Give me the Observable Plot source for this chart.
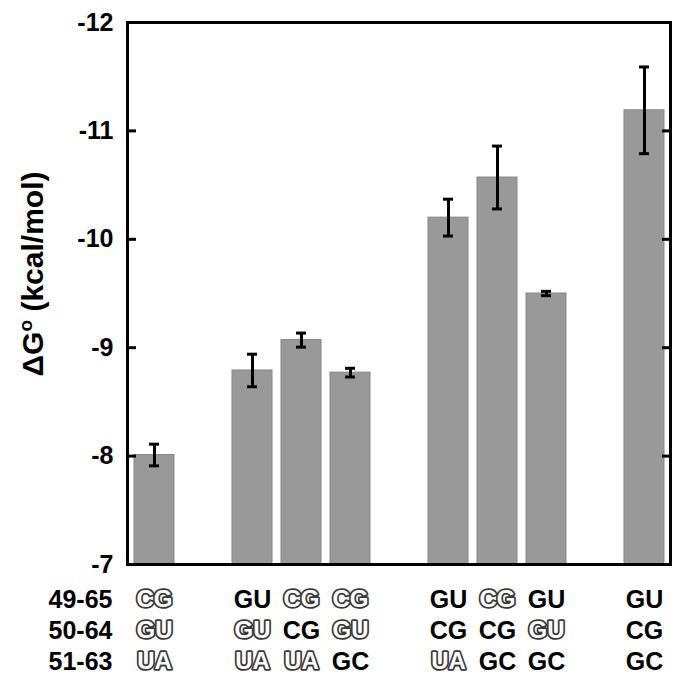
<!DOCTYPE html>
<html>
<head>
<meta charset="utf-8">
<script src="https://cdn.jsdelivr.net/npm/d3@7"></script>
<script src="https://cdn.jsdelivr.net/npm/@observablehq/plot@0.6"></script>
<style>
  html, body { margin: 0; padding: 0; background: white; }
</style>
</head>
<body>
<div id="chart"></div>
<script>
// ---- data ----
const groupSizes = [1, 3, 3, 1];
const pairRowLabels = ["49-65", "50-64", "51-63"];
const pairs4965 = ["CG", "GU", "CG", "CG", "GU", "CG", "GU", "GU"];
const pairs5064 = ["GU", "GU", "CG", "GU", "CG", "CG", "GU", "CG"];
const pairs5163 = ["UA", "UA", "UA", "GC", "UA", "GC", "GC", "GC"];
const dG = [-8.01, -8.79, -9.07, -8.77, -10.20, -10.57, -9.50, -11.19];
const dGerr = [0.10, 0.15, 0.065, 0.04, 0.17, 0.29, 0.02, 0.40];
const yTicks = [-12, -11, -10, -9, -8, -7];

// ---- build table ----
const ids = dG.map((_, i) => "b" + i);
const slots = [];
let k = 0;
groupSizes.forEach((n, g) => {
  if (g > 0) slots.push("gap" + g);
  for (let j = 0; j < n; j++) slots.push(ids[k++]);
});
const rows = dG.map((v, i) => ({id: ids[i], v, lo: v - dGerr[i], hi: v + dGerr[i]}));
const pairTable = [pairs4965, pairs5064, pairs5163];
const FONT = "'Liberation Sans', Arial, Helvetica, sans-serif";

const textMarks = [];
pairTable.forEach((arr, r) => {
  const dy = 35 + r * 31;
  const items = arr.map((p, i) => ({id: ids[i], p, outlined: p === arr[0]}));
  textMarks.push(Plot.text(items.filter(d => !d.outlined), {
    x: "id", text: "p", frameAnchor: "bottom", dy, lineAnchor: "middle",
    fontSize: 25, fontWeight: "bold", fill: "black"
  }));
  textMarks.push(Plot.text(items.filter(d => d.outlined), {
    x: "id", text: "p", frameAnchor: "bottom", dy, lineAnchor: "middle",
    fontSize: 24, fontWeight: "bold", fill: "white", stroke: "#3a3a3a", strokeWidth: 3.6, paintOrder: "stroke"
  }));
  textMarks.push(Plot.text([pairRowLabels[r]], {
    text: d => d, frameAnchor: "bottom-left", dx: -15, dy, textAnchor: "end", lineAnchor: "middle",
    fontSize: 25, fontWeight: "bold", fill: "black"
  }));
});

const chart = Plot.plot({
  width: 691, height: 684,
  marginLeft: 127, marginRight: 21, marginTop: 22, marginBottom: 120,
  style: {fontFamily: FONT, background: "white", overflow: "visible"},
  x: {domain: slots, paddingInner: 0.19, paddingOuter: 0.095, axis: null},
  y: {domain: [-7, -12], axis: null},
  marks: [
    Plot.barY(rows, {x: "id", y1: -7, y2: "v", fill: "#999999", stroke: "#878787", strokeWidth: 1}),
    Plot.ruleX(rows, {x: "id", y1: "lo", y2: "hi", stroke: "black", strokeWidth: 3}),
    Plot.tickY(rows, {x: "id", y: "lo", insetLeft: 15, insetRight: 15, stroke: "black", strokeWidth: 3}),
    Plot.tickY(rows, {x: "id", y: "hi", insetLeft: 15, insetRight: 15, stroke: "black", strokeWidth: 3}),
    Plot.axisY(yTicks, {anchor: "left", tickSize: 0, tickPadding: 14, fontSize: 25, fontWeight: "bold",
      fill: "black", label: null, tickFormat: d => String(d)}),
    Plot.axisY(yTicks, {anchor: "left", tickSize: -9, fill: "none", stroke: "black", strokeWidth: 3, label: null}),
    Plot.axisY(yTicks, {anchor: "right", tickSize: -9, fill: "none", stroke: "black", strokeWidth: 3, label: null}),
    Plot.frame({stroke: "black", strokeWidth: 3}),
    ...textMarks
  ]
});

const svg = d3.select(chart);
const lab = svg.append("text")
  .attr("transform", "translate(43,274) rotate(-90)")
  .attr("text-anchor", "middle")
  .attr("font-family", FONT)
  .attr("font-size", 30)
  .attr("font-weight", "bold")
  .attr("fill", "black");
lab.append("tspan").text("ΔG");
lab.append("tspan").attr("font-size", 19).attr("dy", -11).text("o");
lab.append("tspan").attr("dy", 11).text(" (kcal/mol)");

document.getElementById("chart").appendChild(chart);
</script>
</body>
</html>
